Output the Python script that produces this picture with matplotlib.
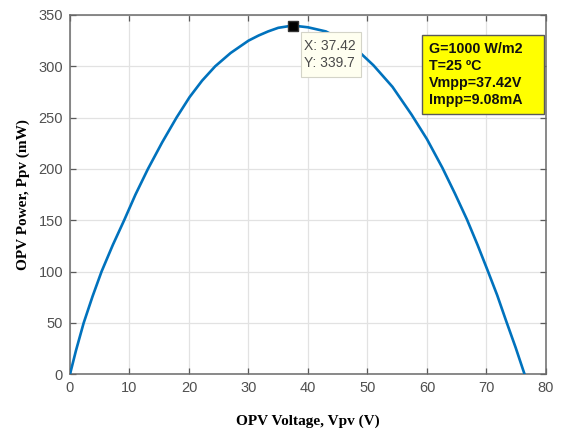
import matplotlib
matplotlib.use("Agg")
import matplotlib.pyplot as plt
from matplotlib.patches import Rectangle

# P-V curve
voltage = [0, 1, 2.3, 3.8, 5.3, 7.2, 9.1, 11, 13.1, 15.5, 17.9, 20.1, 22.2,
           24.4, 27, 30, 31.7, 33.3, 35, 37.42, 40, 43, 46, 48.8, 51, 54.2,
           57.4, 60, 62.6, 64.7, 66.7, 68.5, 70.2, 71.8, 73.3, 74.9, 76.4]
power = [0, 23, 50, 76, 100, 126, 150, 175, 200, 226, 250, 270, 286,
         300, 313, 325, 330, 334, 337.5, 339.7, 338, 334, 325, 313, 301, 280,
         253, 229, 201, 176, 151, 126, 101, 77, 52, 26, 0]

mpp_v, mpp_p = 37.42, 339.7
tip_lines = ["X: 37.42", "Y: 339.7"]
info_lines = ["G=1000 W/m2", "T=25 \u00baC", "Vmpp=37.42V", "Impp=9.08mA"]

BLUE = "#0072BD"
AXC = "#5a5a5a"
SANS = "Liberation Sans"
SERIF = "Liberation Serif"

fig = plt.figure(figsize=(5.63, 4.32), dpi=100)
ax = fig.add_axes([0.1243, 0.1336, 0.8455, 0.8317])

ax.plot(voltage, power, color=BLUE, lw=1.9, zorder=3,
        solid_joinstyle="round")
ax.plot([mpp_v], [mpp_p], marker="s", ms=7.5, color="black",
        mec="#333333", zorder=7)

ax.set_xlim(0, 80)
ax.set_ylim(0, 350)
ax.set_xticks(range(0, 81, 10))
ax.set_yticks(range(0, 351, 50))
ax.grid(True, color="#e2e2e2", lw=0.9)
ax.set_axisbelow(True)
ax.tick_params(direction="in", length=4.5, width=0.9, top=True, right=True,
               labelsize=10.5, colors=AXC, labelcolor="#505050", pad=5)
for lab in ax.get_xticklabels() + ax.get_yticklabels():
    lab.set_family(SANS)
for s in ax.spines.values():
    s.set_color("#6a6a6a")
    s.set_linewidth(1.1)

ax.set_xlabel("OPV Voltage, Vpv (V)", family=SERIF, fontweight="bold",
              fontsize=11, labelpad=14)
ax.set_ylabel("OPV Power, Ppv (mW)", family=SERIF, fontweight="bold",
              fontsize=11, labelpad=6)

# data tip
ax.add_patch(Rectangle((38.8, 289.5), 10.1, 43.8, fc="#fffff0", ec="#d4d4c8",
                       lw=0.8, zorder=6))
ax.text(39.4, 311.5, "\n".join(tip_lines), family=SANS, fontsize=10,
        color="#4a4a4a", va="center", ha="left", linespacing=1.2, zorder=7)

# info box
ax.add_patch(Rectangle((59.2, 253.5), 20.4, 76.9, fc="#ffff00", ec="#5a5a5a",
                       lw=1.0, zorder=6))
ax.text(60.3, 292, "\n".join(info_lines), family=SANS, fontsize=10.3,
        fontweight="bold", color="#111111", va="center", ha="left",
        linespacing=1.3, zorder=7)

fig.savefig("out.png", dpi=100)
